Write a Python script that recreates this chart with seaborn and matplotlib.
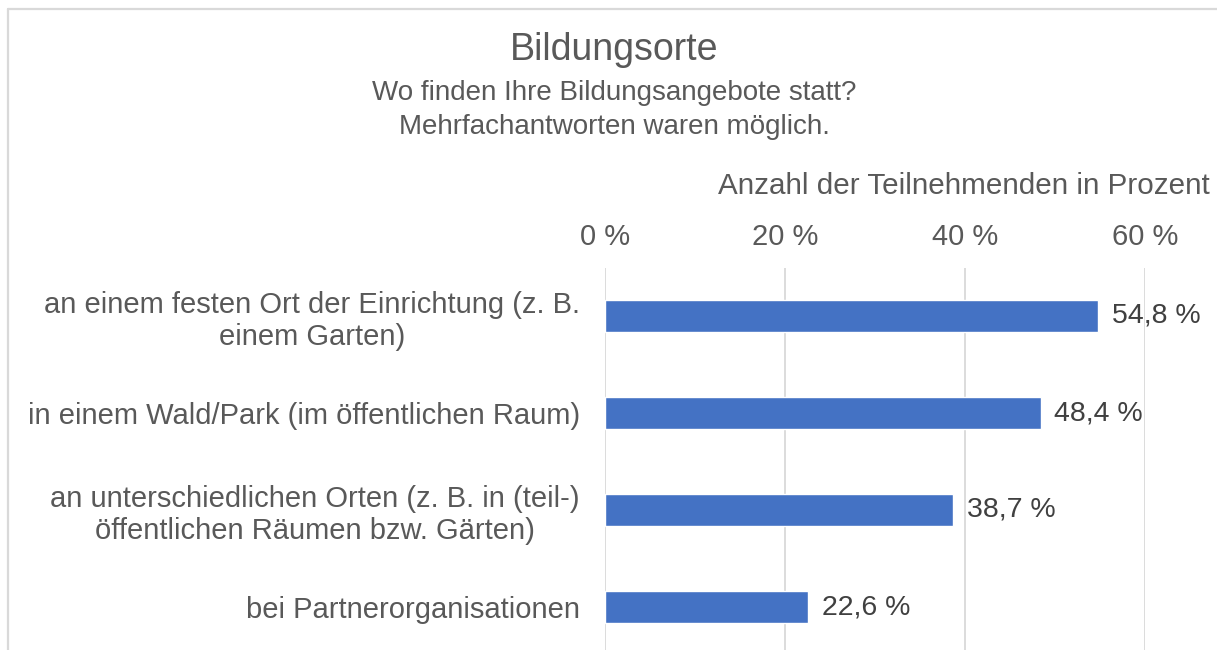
import matplotlib
matplotlib.use("Agg")
import matplotlib.pyplot as plt
from matplotlib.lines import Line2D
import seaborn as sns
import pandas as pd

categories = [
    "an einem festen Ort der Einrichtung (z. B.\neinem Garten)",
    "in einem Wald/Park (im öffentlichen Raum)",
    "an unterschiedlichen Orten (z. B. in (teil-)\nöffentlichen Räumen bzw. Gärten)",
    "bei Partnerorganisationen",
]
values = [54.8, 48.4, 38.7, 22.6]
value_labels = ["54,8 %", "48,4 %", "38,7 %", "22,6 %"]
tick_values = [0, 20, 40, 60]
tick_labels = ["0 %", "20 %", "40 %", "60 %"]
title = "Bildungsorte"
subtitle = "Wo finden Ihre Bildungsangebote statt?\nMehrfachantworten waren möglich."
axis_title = "Anzahl der Teilnehmenden in Prozent"

sns.set_theme(style="white")
plt.rcParams["font.family"] = ["Liberation Sans", "DejaVu Sans"]

TXT = "#595959"
W, H = 1217, 650
fig = plt.figure(figsize=(W / 100, H / 100), dpi=100)
ax = fig.add_axes([605 / W, (650 - 655.5) / H, 540 / W, 388 / H])

df = pd.DataFrame({"cat": categories, "val": values})
sns.barplot(data=df, y="cat", x="val", orient="h", color="#4472C4",
            saturation=1, width=0.34, ax=ax, zorder=3)

ax.set_xlim(0, 60)
ax.set_ylim(3.5, -0.5)
ax.set_xticks(tick_values)
ax.set_xticklabels(tick_labels)
ax.xaxis.tick_top()
ax.tick_params(axis="x", length=0, pad=12, labelsize=21, labelcolor=TXT)
ax.tick_params(axis="y", length=0, pad=18, labelsize=21, labelcolor=TXT)
for t in ax.get_yticklabels():
    t.set_multialignment("center")
    t.set_linespacing(1.2)
ax.set_xlabel("")
ax.set_ylabel("")
for s in ax.spines.values():
    s.set_visible(False)
ax.grid(axis="x", color="#D9D9D9", linewidth=1.3, zorder=0)
ax.set_axisbelow(True)
ax.patch.set_alpha(0)

for i, (v, lab) in enumerate(zip(values, value_labels)):
    ax.annotate(lab, xy=(v, i), xytext=(10, 0), textcoords="offset points",
                ha="left", va="center", fontsize=20.5, color="#404040")

fig.text(614 / W, 1 - 50 / H, title, ha="center", va="center", fontsize=27, color=TXT)
fig.text(614 / W, 1 - 110 / H, subtitle, ha="center", va="center", fontsize=20,
         color=TXT, linespacing=1.4)
fig.text(1210 / W, 1 - 186 / H, axis_title, ha="right", va="center", fontsize=21.3, color=TXT)

fig.add_artist(Line2D([8 / W, 8 / W], [0, 1 - 9 / H], color="#D9D9D9", linewidth=1.6,
                      transform=fig.transFigure))
fig.add_artist(Line2D([8 / W, 1], [1 - 9 / H, 1 - 9 / H], color="#D9D9D9", linewidth=1.6,
                      transform=fig.transFigure))

fig.savefig("out.png", dpi=100)
